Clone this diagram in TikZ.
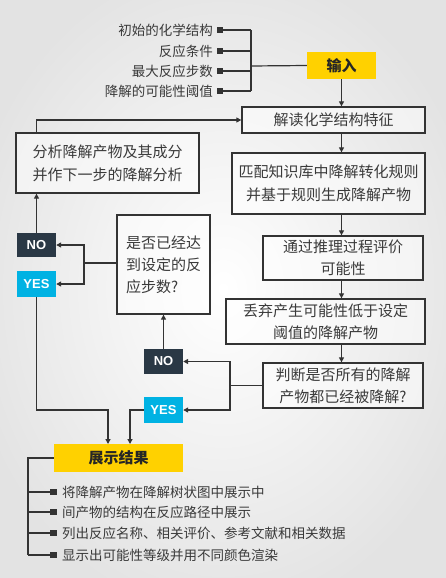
\documentclass[tikz,border=0pt]{standalone}
\usepackage{fontspec}
\setmainfont{Liberation Sans}
\newfontfamily\cjk{Noto Sans CJK SC}
\usetikzlibrary{arrows.meta}
\definecolor{ln}{HTML}{333333}
\definecolor{txt}{HTML}{3A3A3A}
\definecolor{noc}{HTML}{2A3845}
\definecolor{yesc}{HTML}{00B2E3}
\definecolor{yel}{HTML}{FFD100}
\begin{document}
\begin{tikzpicture}[x=1pt,y=-1pt,
  box/.style={draw=ln, line width=1.3pt, fill=white, fill opacity=0.5, text opacity=1, inner sep=0pt, font=\cjk\fontsize{15}{23}\selectfont, align=center, text=txt},
  ybox/.style={fill=yel, inner sep=0pt, font=\cjk\bfseries\fontsize{15}{18}\selectfont, text=black!85},
  nobox/.style={fill=noc, inner sep=0pt, minimum width=39pt, font=\bfseries\fontsize{13}{15}\selectfont, text=white},
  yesbox/.style={fill=yesc, inner sep=0pt, minimum width=39pt, font=\bfseries\fontsize{13}{15}\selectfont, text=white},
  lab/.style={inner sep=0pt, font=\cjk\fontsize{13.5}{16}\selectfont, text=txt},
  sq/.style={fill=ln, minimum size=6.5pt, inner sep=0pt},
  line/.style={draw=ln, line width=1.2pt},
  arr/.style={line, -{Triangle[length=5pt,width=5pt]}}
]
\useasboundingbox (0,0) rectangle (446,578);
\shade[inner color=white, outer color=gray!22] (-40,-40) rectangle (486,618);

% input labels
\node[lab, anchor=east] (l1) at (213,30) {初始的化学结构};
\node[lab, anchor=east] (l2) at (213,51) {反应条件};
\node[lab, anchor=east] (l3) at (213,71) {最大反应步数};
\node[lab, anchor=east] (l4) at (213,91) {降解的可能性阈值};
\node[sq] (s1) at (220,30) {};
\node[sq] (s2) at (220,51) {};
\node[sq] (s3) at (220,71) {};
\node[sq] (s4) at (220,91) {};
\coordinate (bx) at (251,66);

% boxes
\node[ybox, minimum width=69pt, minimum height=27pt] (in) at (341.5,65.5) {输入};
\node[box, minimum width=183pt, minimum height=26pt] (jd) at (333.5,120) {解读化学结构特征};
\node[box, minimum width=183pt, minimum height=60pt] (fx) at (107.5,163) {分析降解产物及其成分\\并作下一步的降解分析};
\node[box, minimum width=193pt, minimum height=61pt] (pp) at (328.5,183.5) {匹配知识库中降解转化规则\\并基于规则生成降解产物};
\node[box, minimum width=160pt, minimum height=44pt, font=\cjk\fontsize{15}{22}\selectfont] (tg) at (343,258) {通过推理过程评价\\可能性};
\node[box, minimum width=199pt, minimum height=45pt, font=\cjk\fontsize{15}{22}\selectfont] (dq) at (325.5,321.5) {丢弃产生可能性低于设定\\阈值的降解产物};
\node[box, minimum width=160pt, minimum height=45pt, font=\cjk\fontsize{15}{22}\selectfont] (pd) at (343,385.5) {判断是否所有的降解\\产物都已经被降解?};
\node[box, minimum width=93pt, minimum height=99pt, align=left, font=\cjk\fontsize{15}{22}\selectfont] (sf) at (163.5,264.5) {是否已经达\\到设定的反\\应步数?};
\node[nobox, minimum height=24pt] (no1) at (36.5,245) {NO};
\node[yesbox, minimum height=26pt] (yes1) at (36.5,284) {YES};
\node[nobox, minimum height=25pt] (no2) at (163.5,361.5) {NO};
\node[yesbox, minimum height=26pt] (yes2) at (163.5,410) {YES};
\node[ybox, minimum width=129pt, minimum height=28pt] (zs) at (118.5,458) {展示结果};

% output list
\node[sq] (o1) at (53.5,492) {};
\node[sq] (o2) at (53.5,512) {};
\node[sq] (o3) at (53.5,533) {};
\node[sq] (o4) at (53.5,555) {};
\node[lab, anchor=west] (t1) at (62,492) {将降解产物在降解树状图中展示中};
\node[lab, anchor=west] (t2) at (62,512) {间产物的结构在反应路径中展示};
\node[lab, anchor=west] (t3) at (62,533) {列出反应名称、相关评价、参考文献和相关数据};
\node[lab, anchor=west] (t4) at (62,555) {显示出可能性等级并用不同颜色渲染};
\coordinate (bl) at (28,458);

% connectors: input
\draw[line] (s1.center) -- (s1 -| bx);
\draw[line] (s2.center) -- (s2 -| bx);
\draw[line] (s3.center) -- (s3 -| bx);
\draw[line] (s4.center) -- (s4 -| bx);
\draw[line] (s1 -| bx) -- (s4 -| bx);
\draw[line] (bx) -- (in.west);

% main chain
\draw[arr] (in.south) -- (in.south |- jd.north);
\draw[arr] (jd.south -| in.south) -- (pp.north -| in.south);
\draw[arr] (pp.south -| in.south) -- (tg.north -| in.south);
\draw[arr] (tg.south -| in.south) -- (dq.north -| in.south);
\draw[arr] (dq.south -| in.south) -- (pd.north -| in.south);

% loop back
\draw[arr] (fx.north -| no1.north) |- (jd.west);

% decision 1
\coordinate (j1) at (230,385.5);
\draw[line] (pd.west) -- (j1);
\draw[arr] (j1) |- (no2.east);
\draw[arr] (j1) |- (yes2.east);
\draw[arr] (no2.north) -- (sf.south);

% decision 2
\coordinate (j2) at (84,263);
\draw[line] (sf.west |- j2) -- (j2);
\draw[arr] (j2) |- (no1.east);
\draw[arr] (j2) |- (yes1.east);
\draw[arr] (no1.north) -- (fx.south -| no1.north);

% to results
\coordinate (r1) at (108,444);
\coordinate (r2) at (130,444);
\draw[arr] (yes1.south) -- (yes1.south |- yes2.west) -| (r1);
\draw[arr] (yes2.west) -| (r2);

% output list connectors
\draw[line] (zs.west) -- (bl) -- (bl |- o4);
\draw[line] (bl |- o1) -- (o1.center);
\draw[line] (bl |- o2) -- (o2.center);
\draw[line] (bl |- o3) -- (o3.center);
\draw[line] (bl |- o4) -- (o4.center);
\end{tikzpicture}
\end{document}
